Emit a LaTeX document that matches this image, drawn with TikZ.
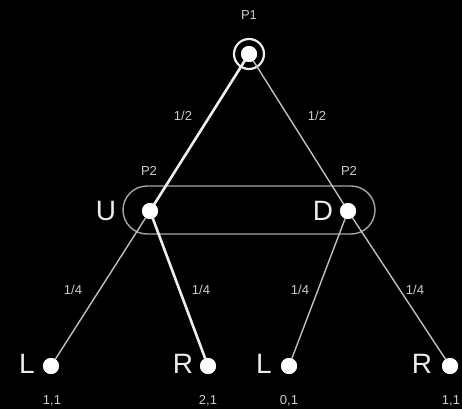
\documentclass[tikz,border=0pt]{standalone}
\usepackage{fontspec}
\setmainfont{Liberation Sans}
\begin{document}
\begin{tikzpicture}[x=1pt,y=-1pt,
  dot/.style={circle,fill=white,draw=none,inner sep=0pt,minimum size=16pt},
  big/.style={text=white!92!black,font=\fontsize{28}{30}\selectfont,inner sep=0pt},
  small/.style={text=white!80!black,font=\fontsize{13}{15}\selectfont,inner sep=0pt},
  thinedge/.style={draw=white!75!black,line width=1.4pt},
  thickedge/.style={draw=white!93!black,line width=2.6pt},
  infoset/.style={draw=white!65!black,line width=1.4pt,rounded corners=24pt}]
\fill[black] (0,0) rectangle (462,409);
\useasboundingbox (0,0) rectangle (462,409);
% nodes
\node[dot] (p1) at (249,54) {};
\node[dot] (u) at (150,211) {};
\node[dot] (d) at (348,211) {};
\node[dot] (l1) at (51,366) {};
\node[dot] (r1) at (208,366) {};
\node[dot] (l2) at (289,366) {};
\node[dot] (r2) at (450,366) {};
% ring and information set
\draw[white!92!black,line width=2.2pt] (p1) circle (15pt);
\draw[infoset] (123,186) rectangle (375,234);
% edges
\draw[thickedge] (p1.center) -- (u.center);
\draw[thinedge] (p1.center) -- (d.center);
\draw[thinedge] (u.center) -- (l1.center);
\draw[thickedge] (u.center) -- (r1.center);
\draw[thinedge] (d.center) -- (l2.center);
\draw[thinedge] (d.center) -- (r2.center);
% redraw dots on top
\foreach \n in {p1,u,d,l1,r1,l2,r2} \fill[white] (\n.center) circle (8pt);
% labels
\node[small] (tp1) at (249,15) {P1};
\node[small] (tp2a) at (149,171) {P2};
\node[small] (tp2b) at (349,171) {P2};
\node[big] (tu) at (106,211) {U};
\node[big] (td) at (323,211) {D};
\node[big] (tl1) at (27,364) {L};
\node[big] (tr1) at (183,364) {R};
\node[big] (tl2) at (264,364) {L};
\node[big] (tr2) at (422,364) {R};
\node[small] (h1) at (183,116) {1/2};
\node[small] (h2) at (317,116) {1/2};
\node[small] (q1) at (73,290) {1/4};
\node[small] (q2) at (201,290) {1/4};
\node[small] (q3) at (300,290) {1/4};
\node[small] (q4) at (415,290) {1/4};
\node[small] (o1) at (52,401) {1,1};
\node[small] (o2) at (208,401) {2,1};
\node[small] (o3) at (289,401) {0,1};
\node[small] (o4) at (451,401) {1,1};
\end{tikzpicture}
\end{document}
